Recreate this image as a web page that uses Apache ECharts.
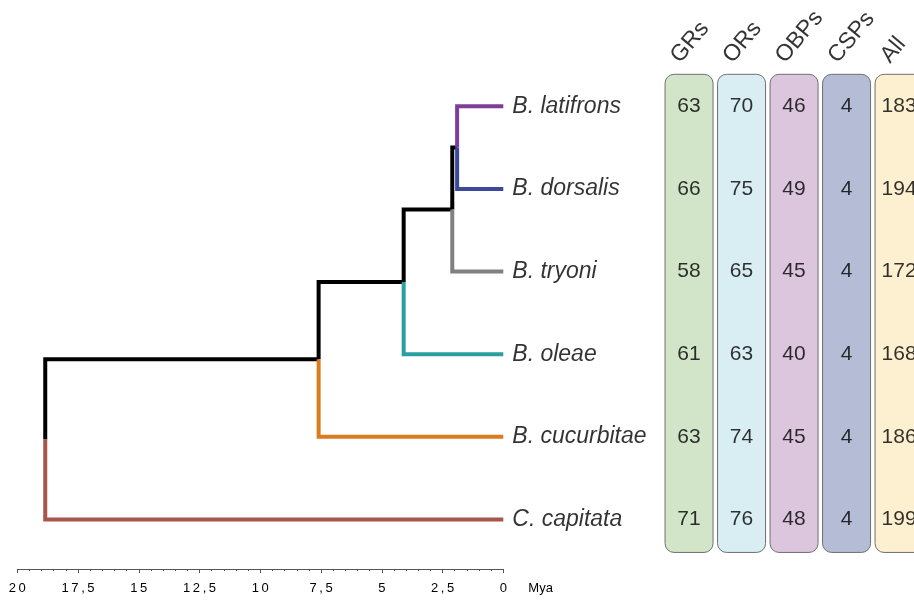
<!DOCTYPE html>
<html>
<head>
<meta charset="utf-8">
<script src="https://cdn.jsdelivr.net/npm/echarts@6/dist/echarts.min.js"></script>
<style>html,body{margin:0;padding:0;background:#fff}#c{width:914px;height:600px}</style>
</head>
<body>
<div id="c"></div>
<script>
// ---- data ----
const taxa = ['B. latifrons', 'B. dorsalis', 'B. tryoni', 'B. oleae', 'B. cucurbitae', 'C. capitata'];
const tipColors = ['#7c3e98', '#3d4a9c', '#808080', '#2b9e9f', '#d97b1f', '#a8554a'];
// internal nodes (ages in Mya) and their children ('t' = tip index, 'n' = node index)
const nodeAges = [1.9, 2.1, 4.1, 7.6, 18.85];
const nodeChildren = [['t0', 't1'], ['n0', 't2'], ['n1', 't3'], ['n2', 't4'], ['n3', 't5']];

const columns = ['GRs', 'ORs', 'OBPs', 'CSPs', 'All'];
const GRs  = [63, 66, 58, 61, 63, 71];
const ORs  = [70, 75, 65, 63, 74, 76];
const OBPs = [46, 49, 45, 40, 45, 48];
const CSPs = [4, 4, 4, 4, 4, 4];
const All  = [183, 194, 172, 168, 186, 199];
const columnValues = [GRs, ORs, OBPs, CSPs, All];
const columnFills = ['#d3e5c8', '#d9eef3', '#dcc6de', '#b4bcd6', '#fdf0d0'];

// ---- build tree edges ----
const nodeY = [];
function childInfo(c) {
  const idx = +c.slice(1);
  if (c[0] === 't') return { age: 0, y: idx, color: tipColors[idx] };
  return { age: nodeAges[idx], y: nodeY[idx], color: '#000000' };
}
nodeChildren.forEach((ch, i) => {
  nodeY[i] = (childInfo(ch[0]).y + childInfo(ch[1]).y) / 2;
});
const edgeSeries = [];
nodeChildren.forEach((ch, i) => {
  ch.forEach(c => {
    const info = childInfo(c);
    edgeSeries.push({
      type: 'line', xAxisIndex: 0, yAxisIndex: 0,
      data: [[nodeAges[i], nodeY[i]], [nodeAges[i], info.y], [info.age, info.y]],
      symbol: 'none', silent: true,
      lineStyle: { color: info.color, width: 4, cap: 'butt', join: 'miter' },
      z: info.color === '#000000' ? 2 : 3
    });
  });
});

const FONT = 'Liberation Sans, Arial, Helvetica, sans-serif';

const cellData = [];
columnValues.forEach((vals, ci) => vals.forEach((v, ri) => cellData.push([ci, ri, v])));

// table grid: value x axis so the last column can run past the right edge
const TABLE_LEFT = 662.8, COL_PITCH = 52.5;
const tableMaxX = -0.5 + (914 - TABLE_LEFT) / COL_PITCH;

const chart = echarts.init(document.getElementById('c'), null, { renderer: 'canvas' });
chart.setOption({
  animation: false,
  textStyle: { fontFamily: FONT },
  grid: [
    { left: 17.3, right: 410.7, top: 65, bottom: 31 },
    { left: TABLE_LEFT, right: 0, top: 65, bottom: 31 }
  ],
  xAxis: [
    {
      type: 'value', gridIndex: 0, min: 0, max: 20, interval: 2.5, inverse: true,
      axisLine: { show: true, onZero: false, lineStyle: { color: '#555', width: 1 } },
      axisTick: { show: true, length: 4, lineStyle: { color: '#555' } },
      minorTick: { show: true, splitNumber: 5, length: 2, lineStyle: { color: '#555' } },
      splitLine: { show: false },
      axisLabel: {
        fontSize: 13, color: '#000', margin: 13, fontFamily: FONT,
        formatter: v => String(v).replace('.', ',').split('').join('\u2009')
      },
      name: 'Mya', nameLocation: 'start', nameGap: 25,
      nameTextStyle: { fontSize: 13, color: '#000', fontFamily: FONT, verticalAlign: 'top', padding: [13, 0, 0, 0] }
    },
    {
      type: 'value', gridIndex: 1, min: -0.5, max: tableMaxX, show: false
    }
  ],
  yAxis: [
    { type: 'value', gridIndex: 0, min: -0.5, max: 5.6, inverse: true, show: false },
    { type: 'value', gridIndex: 1, min: -0.5, max: 5.6, inverse: true, show: false }
  ],
  series: [
    ...edgeSeries,
    {
      type: 'scatter', xAxisIndex: 0, yAxisIndex: 0, symbolSize: 0, silent: true,
      data: taxa.map((t, i) => [0, i, t]),
      label: {
        show: true, position: 'right', distance: 9,
        formatter: p => p.value[2],
        fontSize: 23, fontStyle: 'italic', color: '#000', fontFamily: FONT
      }
    },
    {
      type: 'custom', xAxisIndex: 1, yAxisIndex: 1, silent: true, clip: false,
      data: columns.map((c, i) => [i, 0]),
      encode: { x: 0, y: 1 },
      renderItem: (params, api) => {
        const ci = api.value(0);
        const top = api.coord([ci, 0]);
        const bot = api.coord([ci, taxa.length - 1]);
        const w = api.size([1, 0])[0] - 4.5;
        return {
          type: 'rect',
          shape: { x: top[0] - w / 2, y: top[1] - 32, width: w, height: bot[1] - top[1] + 65, r: 9 },
          style: { fill: columnFills[ci], stroke: '#6f6f6f', lineWidth: 1 }
        };
      },
      z: 1
    },
    {
      type: 'scatter', xAxisIndex: 1, yAxisIndex: 1, symbolSize: 0, silent: true,
      data: cellData,
      label: {
        show: true, position: 'inside', formatter: p => p.value[2],
        fontSize: 21, color: '#000', fontFamily: FONT
      },
      z: 5
    },
    {
      // column headers
      type: 'scatter', xAxisIndex: 1, yAxisIndex: 1, symbolSize: 0, silent: true,
      data: columns.map((c, i) => [i, -0.5, c]),
      label: {
        show: true, position: 'inside', offset: [-5, -14], rotate: 50,
        align: 'left', verticalAlign: 'middle',
        formatter: p => p.value[2],
        fontSize: 23, color: '#000', fontFamily: FONT
      },
      z: 5
    }
  ]
});
</script>
</body>
</html>
